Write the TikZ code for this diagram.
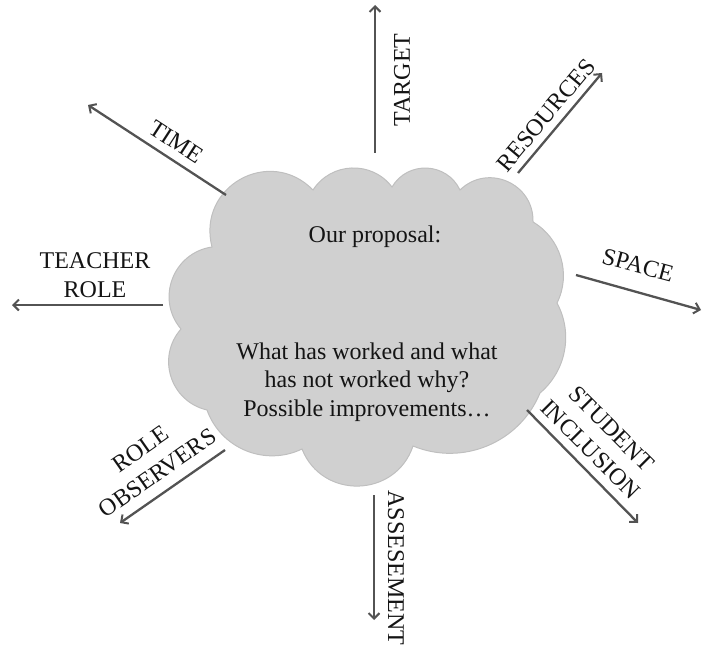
\documentclass[tikz,border=0pt]{standalone}
\usepackage{fontspec}
\setmainfont{Liberation Serif}
\usetikzlibrary{arrows.meta}
\definecolor{cloudfill}{HTML}{D0D0D0}
\definecolor{cloudline}{HTML}{BFBFBF}
\definecolor{arrowgray}{HTML}{535353}
\begin{document}
\begin{tikzpicture}[x=1pt,y=1pt,
  puffy/.style={fill=cloudfill, draw=cloudline, line width=1pt},
  bump/.style n args={2}{bend left=#1, looseness=#2},
  body/.style={font=\fontsize{24}{28.6}\selectfont, align=center, text=black!92},
  tag/.style={font=\fontsize{24}{29.5}\selectfont, align=center, text=black!92, inner sep=0pt},
  ray/.style={draw=arrowgray, line width=2.3pt,
    -{Straight Barb[length=5.5pt,width=11pt,line width=2pt]}}]
\useasboundingbox (0,0) rectangle (703,646);

% outline of the cloud: junctions between the puffs, clockwise
\coordinate (j1) at (212,399);
\coordinate (j2) at (313,456);
\coordinate (j3) at (392,459);
\coordinate (j4) at (460,456);
\coordinate (j5) at (533,424);
\coordinate (j6) at (557,343);
\coordinate (j7) at (540,253);
\coordinate (j8) at (413,200);
\coordinate (j9) at (302,197);
\coordinate (j10) at (207,236);
\coordinate (j11) at (181,317);
\draw[puffy] (j1)
  to[bump={75}{1.37}] (j2)
  to[bump={55}{1.08}] (j3)
  to[bump={62}{1.16}] (j4)
  to[bump={68}{1.24}] (j5)
  to[bump={43}{0.98}] (j6)
  to[bump={39}{0.96}] (j7)
  to[bump={45}{1.00}] (j8)
  to[bump={70}{1.26}] (j9)
  to[bump={48}{1.02}] (j10)
  to[bump={59}{1.13}] (j11)
  to[bump={61}{1.15}] (j1) -- cycle;

% texts inside the cloud
\node[body] (head) at (375,409) {Our proposal:};
\node[body] (question) at (367,264) {What has worked and what\\has not worked why?\\Possible improvements\ldots};

% arrow ends
\coordinate (timeA) at (226,451);   \coordinate (timeB) at (88,541);
\coordinate (teachA) at (163,341);  \coordinate (teachB) at (12,341);
\coordinate (targA) at (375,493);   \coordinate (targB) at (375,641);
\coordinate (resA) at (518,473);    \coordinate (resB) at (602,573);
\coordinate (spaceA) at (576,371);  \coordinate (spaceB) at (701,336);
\coordinate (studA) at (527,236);   \coordinate (studB) at (638,123);
\coordinate (assA) at (374,151);    \coordinate (assB) at (374,26);
\coordinate (obsA) at (225,196);    \coordinate (obsB) at (120,123);

\draw[ray] (timeA) -- (timeB);
\draw[ray] (teachA) -- (teachB);
\draw[ray] (targA) -- (targB);
\draw[ray] (resA) -- (resB);
\draw[ray] (spaceA) -- (spaceB);
\draw[ray] (studA) -- (studB);
\draw[ray] (assA) -- (assB);
\draw[ray] (obsA) -- (obsB);

% arrow labels
\node[tag, rotate=-33] (time) at (176,504) {TIME};
\node[tag] (teacher) at (95,371) {TEACHER\\ROLE};
\node[tag, rotate=90] (target) at (402,566) {TARGET};
\node[tag, rotate=50] (resources) at (546,531) {RESOURCES};
\node[tag, rotate=-15] (space) at (638,381) {SPACE};
\node[tag, rotate=-45] (student) at (601,207) {STUDENT\\INCLUSION};
\node[tag, rotate=-90] (assess) at (396,78) {ASSESEMENT};
\node[tag, rotate=35] (observers) at (149,185) {ROLE\\OBSERVERS};
\end{tikzpicture}
\end{document}
